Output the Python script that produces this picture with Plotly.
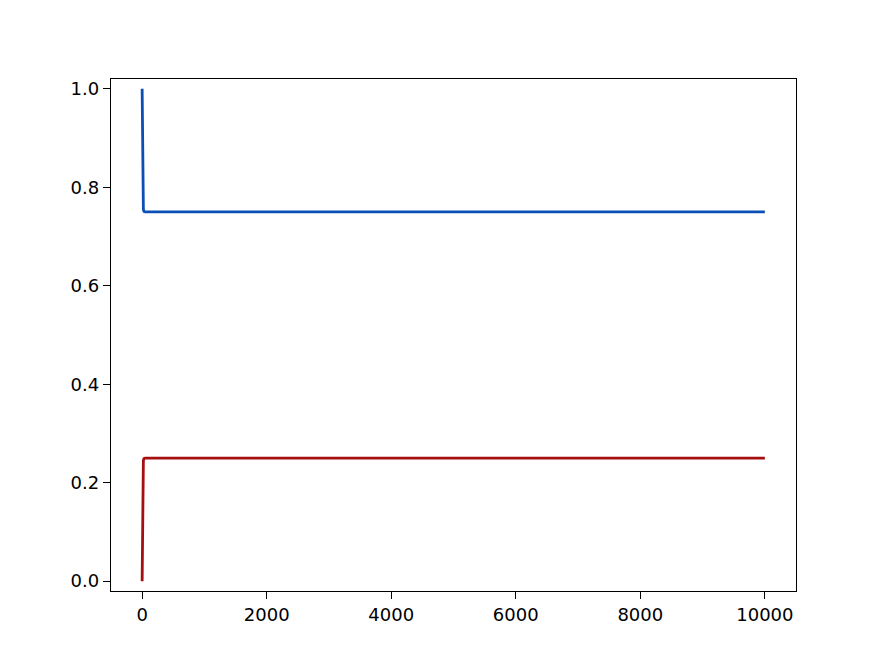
import plotly.graph_objects as go

steps = [0, 2, 4, 6, 8, 10, 14, 20, 30, 50, 100, 1000, 5000, 10000]
prob_a = [1.0, 0.95, 0.90, 0.86, 0.82, 0.80, 0.77, 0.755, 0.751, 0.75, 0.75, 0.75, 0.75, 0.75]
prob_b = [0.0, 0.05, 0.10, 0.14, 0.18, 0.20, 0.23, 0.245, 0.249, 0.25, 0.25, 0.25, 0.25, 0.25]

x_ticks = [0, 2000, 4000, 6000, 8000, 10000]
x_labels = ["0", "2000", "4000", "6000", "8000", "10000"]
y_ticks = [0.0, 0.2, 0.4, 0.6, 0.8, 1.0]

fig = go.Figure()
fig.add_trace(go.Scatter(x=steps, y=prob_a, mode="lines", line=dict(color="#0a4fb5", width=2.8)))
fig.add_trace(go.Scatter(x=steps, y=prob_b, mode="lines", line=dict(color="#a50f0f", width=2.8)))

axis_style = dict(
    showline=True, mirror=True, linecolor="black", linewidth=1.4,
    ticks="outside", ticklen=7, tickwidth=1.4, tickcolor="black",
    showgrid=False, zeroline=False,
    tickfont=dict(family="DejaVu Sans", size=18, color="black"),
)

# the page body has an 8px margin, so the figure is sized to fit inside it
fig.update_layout(
    width=869, height=648,
    paper_bgcolor="white", plot_bgcolor="white",
    showlegend=False,
    margin=dict(l=103, r=81, t=71, b=65),
    xaxis=dict(range=[-500, 10500], tickvals=x_ticks, ticktext=x_labels, **axis_style),
    yaxis=dict(range=[-0.02, 1.02], tickvals=y_ticks, tickformat=".1f", **axis_style),
)

fig.write_html("out.html")
